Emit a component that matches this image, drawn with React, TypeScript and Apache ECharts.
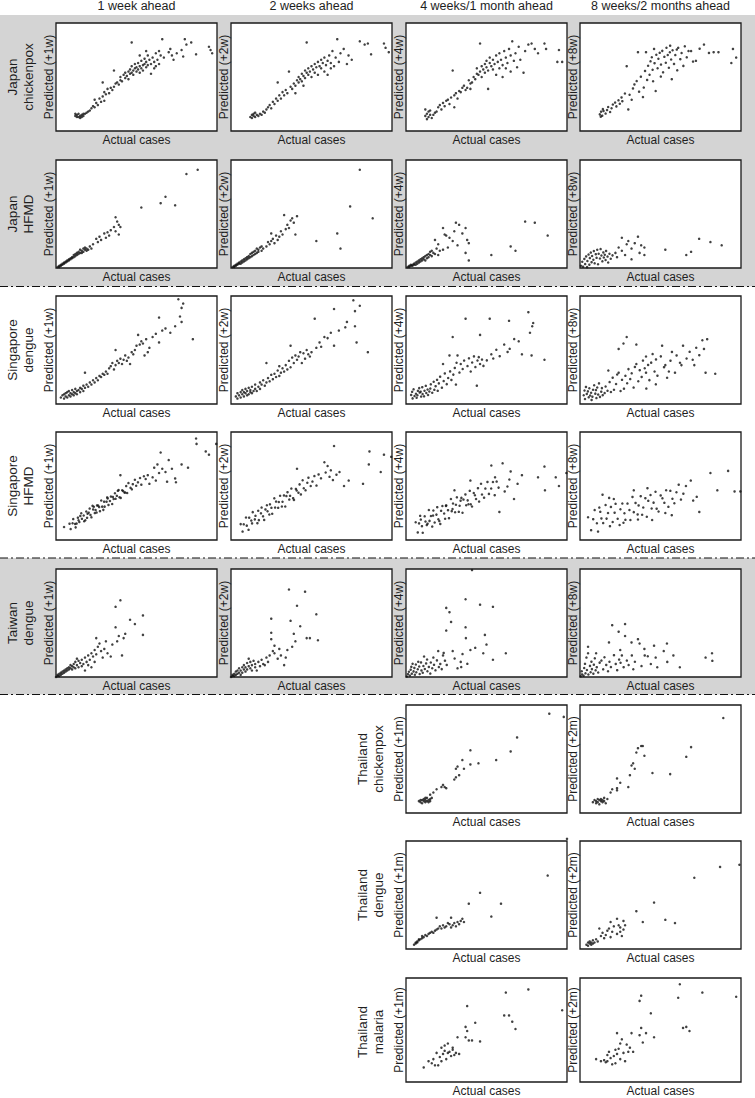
import React, { useEffect, useRef } from "react";
import * as echarts from "echarts";

// ---------- text ----------
const COL_HEADERS = ["1 week ahead", "2 weeks ahead", "4 weeks/1 month ahead", "8 weeks/2 months ahead"];
const ROW_LABELS = [
  "Japan\nchickenpox",
  "Japan\nHFMD",
  "Singapore\ndengue",
  "Singapore\nHFMD",
  "Taiwan\ndengue",
  "Thailand\nchickenpox",
  "Thailand\ndengue",
  "Thailand\nmalaria",
];
const WEEK_HORIZONS = ["+1w", "+2w", "+4w", "+8w"];
const MONTH_HORIZONS = ["+1m", "+2m"];
const X_LABEL = "Actual cases";

// ---------- data (relative units, actual vs predicted) ----------
const JP_CHICKENPOX_1W = [[12,14],[13,15],[14,13],[15,14],[16,15],[14,16],[13,13],[17,14],[18,16],[15,12],[16,13],[19,17],[20,18],[17,16],[12,16],[21,19],[22,21],[23,23],[24,22],[25,26],[26,24],[24,29],[27,30],[28,27],[29,32],[30,28],[31,34],[30,36],[32,39],[33,35],[34,40],[35,38],[36,41],[37,44],[36,56],[38,45],[39,43],[40,47],[40,50],[41,46],[42,52],[43,49],[43,54],[44,51],[45,55],[45,48],[46,53],[46,57],[47,54],[47,60],[48,56],[48,52],[49,58],[49,62],[50,55],[50,59],[51,57],[51,63],[52,60],[52,54],[53,58],[53,65],[54,61],[54,56],[55,62],[55,67],[56,59],[56,64],[57,61],[57,70],[58,66],[59,53],[59,62],[60,68],[61,64],[61,58],[62,72],[62,60],[63,66],[64,74],[64,62],[65,70],[66,85],[67,68],[70,73],[71,76],[72,70],[73,66],[75,72],[78,75],[79,69],[80,85],[81,80],[84,82],[87,71],[47,82],[95,78],[96,75],[97,72],[56,74],[52,70],[29,45]];
const JP_CHICKENPOX_2W = [[12,13],[13,15],[14,14],[15,13],[16,15],[17,14],[14,16],[13,12],[18,16],[19,15],[15,17],[20,18],[21,17],[22,20],[23,22],[24,24],[25,21],[26,27],[27,25],[28,30],[29,28],[30,33],[31,30],[32,36],[33,33],[34,38],[35,35],[36,55],[37,41],[38,39],[39,44],[40,42],[41,47],[42,45],[42,50],[43,48],[44,53],[44,46],[45,51],[46,56],[46,49],[47,54],[48,58],[48,52],[49,55],[50,60],[50,50],[51,57],[52,62],[52,54],[53,59],[54,64],[54,52],[55,60],[56,58],[56,66],[57,63],[58,55],[58,68],[59,61],[60,52],[60,65],[61,70],[62,58],[62,63],[63,74],[64,60],[65,68],[66,85],[67,64],[68,72],[70,76],[72,62],[73,70],[75,66],[80,83],[83,80],[85,81],[87,71],[47,82],[95,81],[96,77],[98,73],[29,45],[40,35],[45,42]];
const JP_CHICKENPOX_4W = [[12,14],[13,16],[14,13],[15,15],[16,12],[14,18],[17,15],[13,11],[15,19],[18,17],[12,20],[19,18],[20,22],[21,24],[22,20],[23,26],[24,23],[25,28],[26,29],[27,25],[28,31],[29,56],[30,22],[30,33],[31,35],[32,30],[33,37],[34,36],[35,40],[36,42],[37,38],[38,40],[39,47],[40,39],[40,44],[41,45],[42,50],[43,48],[44,53],[44,58],[45,52],[46,81],[46,55],[47,60],[47,50],[48,57],[49,62],[49,54],[50,65],[50,59],[51,39],[51,56],[52,63],[52,68],[53,60],[54,66],[54,57],[55,62],[56,70],[56,52],[57,64],[58,72],[58,58],[59,66],[60,50],[60,61],[61,74],[62,68],[63,63],[64,76],[65,70],[66,83],[67,65],[68,72],[69,59],[70,78],[71,66],[73,54],[74,74],[76,80],[78,81],[80,76],[82,72],[86,81],[87,76],[95,75],[97,64],[94,64],[62,58],[65,55]];
const JP_CHICKENPOX_8W = [[12.3,15.4],[13.1,17.9],[13.8,14.2],[14.6,18.6],[15.9,16.1],[14.2,20.3],[16.8,19.4],[12.9,13.3],[17.5,22.2],[18.7,17.6],[19.6,21.1],[20.4,24.5],[21.8,26.3],[22.6,22.8],[23.9,28.4],[24.7,25.2],[25.8,31.1],[26.3,27.6],[27.9,34.7],[29,60],[30,20],[30.8,33.6],[32.1,28.9],[32.9,39.4],[33.8,43.1],[35.2,46.2],[36,73],[36.7,36.4],[37.8,50.3],[39.1,31.4],[39.6,40.2],[40.4,55.6],[41,73],[41.7,47.3],[42.3,60.4],[43.2,52.1],[43.8,64.5],[44.6,68.3],[45.1,56.7],[46,76],[46.3,62.8],[47,37],[47.4,70.6],[48.2,58.1],[48.7,66.9],[49.5,72.4],[50.3,61.5],[51.1,74.2],[51.6,54.3],[52.4,68.7],[53.3,63.2],[53.7,77.1],[54.5,70.4],[55.2,58.6],[55.8,72.9],[56,79],[56.6,66.2],[57,48],[57.5,74.8],[58.4,62.1],[59.2,70.3],[60.1,75.4],[60.4,56.2],[61,77],[62.3,66.5],[63.1,72.2],[64.2,60.3],[65.1,78.4],[66.3,68.2],[67.4,74.1],[69,74],[70.2,64.3],[72,65],[74.3,76.2],[77,80],[80.1,72.3],[83,73],[86,73],[95,76],[97,68],[94,63],[45.4,46.1],[50.2,50.4]];

const JP_HFMD_1W = [[1,1],[2,2],[2,1],[3,3],[3,2],[4,3],[4,4],[5,4],[5,5],[6,5],[6,6],[7,6],[7,7],[8,7],[8,8],[9,8],[9,9],[10,9],[10,10],[11,10],[11,12],[12,11],[12,13],[13,12],[13,14],[14,13],[14,15],[15,14],[15,17],[16,16],[16,14],[17,15],[17,18],[18,17],[18,19],[19,16],[19,18],[20,17],[21,20],[22,18],[23,22],[25,27],[26,24],[27,29],[28,26],[30,32],[31,28],[32,33],[33,30],[34,35],[36,38],[37,47],[37,34],[38,43],[39,40],[39,31],[40,38],[53,56],[65,60],[68,66],[74,58],[81,87],[88,91]];
const JP_HFMD_2W = [[1,1],[2,2],[2,1],[3,3],[3,2],[4,4],[4,3],[5,5],[5,4],[6,6],[6,4],[7,7],[7,5],[8,8],[8,6],[9,9],[9,7],[10,10],[10,8],[11,11],[11,9],[12,13],[12,10],[13,14],[13,11],[14,15],[14,12],[15,16],[15,13],[16,18],[16,14],[17,17],[17,15],[18,19],[19,20],[19,16],[20,18],[22,20],[23,24],[24,22],[25,25],[25,32],[26,27],[27,23],[28,30],[29,26],[30,29],[31,34],[32,31],[33,49],[34,36],[35,40],[36,37],[37,44],[38,46],[39,42],[40,31],[41,48],[53,25],[66,32],[68,18],[74,57],[80,91],[88,46]];
const JP_HFMD_4W = [[1,1],[2,1],[2,2],[3,2],[3,3],[4,2],[4,3],[5,4],[5,3],[6,5],[6,3],[7,6],[7,4],[8,7],[8,5],[9,8],[9,6],[10,9],[10,7],[11,10],[11,8],[12,11],[12,7],[13,12],[13,9],[14,13],[14,10],[15,12],[15,15],[16,11],[16,16],[17,14],[18,26],[18,13],[19,18],[20,22],[20,12],[21,16],[23,37],[23,17],[24,31],[25,30],[26,19],[27,28],[29,25],[30,34],[32,21],[33,40],[35,32],[37,37],[37,14],[38,26],[39,23],[39,7],[31,42],[53,12],[65,20],[68,16],[74,43],[80,42],[88,30]];
const JP_HFMD_8W = [[0.6,2.1],[1.4,5.8],[1.9,1.2],[2.7,8.4],[3.2,3.6],[3.8,10.7],[4.4,0.8],[4.6,6.5],[5.3,12.4],[5.8,3.1],[6.1,9.2],[6.7,14.3],[7.2,5.4],[7.5,11.1],[8.3,7.6],[8.6,15.7],[9.1,4.3],[9.8,12.8],[10.3,9.4],[10.7,16.9],[11.2,3.5],[11.6,13.2],[12.4,8.8],[12.8,17.5],[13.3,11.6],[13.9,6.2],[14.5,14.4],[14.8,9.7],[15.4,12.3],[15.9,7.4],[16.2,15.8],[17.1,10.6],[17.5,5.1],[18.3,13.2],[19.1,8.6],[20.2,11.7],[22,14],[23,10],[26,28],[26,16],[29,22],[30,25],[32,18],[32,8],[34,23],[36,29],[37,14],[38,21],[40,12],[40,19],[53,17],[66,12],[69,15],[74,27],[81,24],[88,21],[24,19],[28,12]];

const SG_DENGUE_1W = [[3,6],[4,8],[5,5],[5,9],[6,7],[6,10],[7,6],[7,11],[8,8],[8,12],[9,7],[9,10],[10,9],[10,13],[11,8],[11,11],[12,10],[12,14],[13,12],[13,9],[14,13],[15,11],[15,15],[16,14],[17,12],[17,17],[18,29],[18,15],[19,18],[20,16],[21,20],[22,18],[23,22],[24,20],[25,24],[26,22],[27,26],[28,25],[29,28],[30,27],[31,30],[32,28],[33,33],[34,35],[35,38],[36,32],[37,50],[37,36],[38,40],[39,38],[40,42],[41,37],[42,41],[43,45],[44,40],[45,43],[46,37],[47,48],[48,46],[49,50],[50,54],[51,64],[52,55],[53,58],[54,56],[56,60],[58,52],[60,62],[62,65],[64,57],[64,80],[66,68],[68,70],[71,66],[74,72],[76,97],[77,81],[78,89],[78,76],[79,93],[85,60],[57,48],[55,45]];
const SG_DENGUE_2W = [[3,7],[4,5],[4,10],[5,8],[6,6],[6,11],[7,9],[7,13],[8,7],[8,11],[9,10],[9,14],[10,8],[10,12],[11,15],[11,9],[12,11],[12,13],[13,16],[13,10],[14,12],[15,14],[15,18],[16,12],[17,16],[18,20],[18,14],[19,18],[20,22],[21,17],[22,38],[22,20],[23,24],[24,21],[25,27],[26,23],[27,28],[28,25],[29,31],[30,35],[30,26],[31,29],[32,33],[33,30],[34,36],[35,32],[36,40],[37,54],[37,34],[38,43],[39,38],[40,45],[41,41],[42,44],[43,48],[44,38],[45,47],[46,42],[47,50],[48,46],[50,48],[52,79],[53,52],[55,57],[56,53],[58,62],[60,61],[62,66],[64,54],[64,88],[67,68],[71,71],[72,76],[76,96],[77,86],[77,72],[78,57],[80,91],[85,48],[49,44]];
const SG_DENGUE_4W = [[3.2,8.4],[4.1,5.2],[3.8,11.3],[5.3,7.4],[4.7,13.6],[6.2,9.5],[6.6,5.8],[7.4,12.2],[7.1,8.1],[8.5,10.6],[8.2,14.7],[9.4,6.9],[9.1,11.4],[10.3,9.2],[10.1,15.6],[11.5,12.3],[11.2,7.1],[12.6,10.2],[12.3,16.8],[13.4,13.4],[13.7,8.3],[14.5,11.6],[15.4,18.2],[15.1,14.3],[16.3,10.4],[17.2,20.6],[17.6,13.1],[18.4,16.5],[19.3,22.4],[19.7,12.2],[20.4,19.1],[21.2,25.3],[22.3,15.1],[23,37],[23.4,21.2],[24.1,28.3],[25.3,18.4],[26.2,24.1],[27,45],[27.4,30.2],[28.2,22.3],[29,62],[29.4,27.2],[30.3,33.4],[31,18],[31.4,38.2],[32,45],[33.2,29.1],[34,37],[35.2,32.4],[36.1,40.2],[37,79],[38.2,35.1],[39.1,42.3],[40.2,30.1],[41.1,38.4],[42.2,44.1],[43.1,34.2],[44,17],[44.4,40.3],[45.2,43.4],[46,37],[46,64],[47.2,41.1],[48.1,35.3],[50.2,40.4],[52,79],[53,46],[54.2,42.1],[56.1,50.2],[58.2,44.3],[61,55],[63.1,48.2],[64,77],[64.4,51.1],[67.2,60.1],[70,58],[72,46],[76,85],[77,66],[78,45],[79,75],[78.4,72],[86,41]];
const SG_DENGUE_8W = [[2.3,8.1],[3.1,4.6],[2.8,12.5],[4.2,9.3],[3.7,15.8],[5.4,6.2],[4.9,11.7],[6.3,7.9],[5.8,14.6],[7.2,3.8],[6.9,10.4],[8.1,13.2],[7.7,6.8],[8.8,17.4],[9.5,9.6],[10.2,5.5],[9.9,12.9],[11.3,8.7],[10.7,15.3],[12.4,6.6],[11.8,19.1],[13.2,11.4],[14.1,8.2],[13.6,14.7],[15.3,10.1],[15.9,16.2],[17.1,12.3],[17.6,31],[18.4,20.3],[19.2,11.1],[20.3,24.4],[21.1,13.2],[22.4,18.5],[23.1,27.3],[24,29],[24,51],[25.2,12],[26.1,22.4],[27,56],[27.3,14.2],[28.2,26.1],[29,62],[29.3,19.2],[30.1,32.3],[31.2,23.1],[32.1,28.4],[33.3,15.2],[34.1,34.3],[35,37],[35,55],[36.2,21.1],[37.1,31.3],[38.3,25.1],[39.1,40.2],[40.2,33.1],[41,29],[41.2,14.3],[41,44],[42.3,36.2],[43.1,22.1],[44.2,38.3],[45.1,46.2],[46.3,30.1],[47.2,41.3],[48.1,26.2],[50.2,44.1],[51,54],[52.2,34.1],[53,36],[54.1,24.3],[56.2,40.1],[57.1,48.2],[59,29],[60,45],[62.1,38.2],[63,36],[64,54],[66.2,42.1],[68.1,48.3],[70,41],[71,36],[72.2,52.1],[74.1,45.2],[76,59],[77,51],[78,29],[79,60],[84,28],[55.2,30.1],[47.1,18.2]];

const SG_HFMD_1W = [[5,12],[8.4,15.1],[9.1,10.1],[10.3,15.5],[10.7,19.4],[11.9,14.9],[12.2,11.7],[13.6,20.7],[14,18.3],[14.5,16.7],[15.7,24.8],[16.1,19.6],[17.2,22.7],[17.5,17.4],[18.8,26.4],[19.3,20.5],[19.6,24.3],[20.9,29.1],[21.4,23.2],[22,21],[23.1,28.3],[23.5,30.8],[24.6,27.7],[25.2,25.4],[25.5,32],[26.8,30.5],[27.3,26.7],[28.1,36.6],[28.7,30.9],[29.9,35.5],[30.2,30.9],[31.4,35.5],[31.8,39.4],[32.6,32.5],[33.5,36.1],[34.1,40.2],[34.9,33.3],[35.3,39.9],[36.6,43.3],[37,38.1],[37.8,40.9],[38.9,46.2],[39.4,39.6],[40.2,39],[41.1,46.1],[41.7,45.3],[42.5,44],[43.6,49.9],[44.2,43.5],[45,52.7],[46.3,48.3],[47.1,46.9],[47.7,51.7],[49,55.8],[49.8,50.2],[50.9,53.4],[52.2,57.4],[53,51.2],[54.6,59],[55.7,56.5],[12.8,15.2],[15.1,22.3],[18.2,18.3],[20.3,25.3],[22.7,31.6],[24.1,24.9],[26.2,31.9],[29.4,27.9],[32.1,38.5],[35.8,38],[38.4,45.5],[43,43.9],[40,60],[57,60],[58,52],[60,58],[61,67],[62,55],[63,70],[64,62],[65,81],[66,66],[68,63],[69,54],[70,74],[72,66],[74,57],[74.5,53.5],[78,70],[82,67],[87,94],[87.3,89],[93,82],[95,79],[99.5,89]];
const SG_HFMD_2W = [[6,14.7],[7.2,7.8],[7.9,14.5],[9.3,20.8],[9.8,13.3],[10.9,9.4],[11.3,20.7],[12.6,18],[13.1,15.4],[13.5,25.8],[14.8,19.1],[15.2,22.4],[16.4,15.6],[16.9,27.1],[17.3,18.4],[18.6,24.7],[19,30],[19.9,21.9],[20.6,18.6],[21.4,28.3],[22.3,32.2],[22.7,26.6],[23.8,23.6],[24.2,33],[25.1,29.8],[25.6,24.3],[26.9,38.6],[27.4,30],[28,35.6],[29.3,29.8],[29.7,35.2],[30.5,41],[31.6,31],[32,35.4],[32.9,41.3],[33.7,31],[34.4,40.7],[35.1,44.3],[36.2,37.4],[36.7,40.9],[37.5,47.6],[38.6,38.7],[39.1,37.1],[40.3,47.3],[40.8,45.8],[41,66],[41.9,43.8],[42.6,51.5],[43.4,42.2],[44.5,55.3],[45.2,47.9],[46.3,46],[47.4,53],[48.1,57.7],[49.5,50],[50.6,54.1],[51.8,59.2],[53.1,50.4],[54.4,60.7],[55.9,57.1],[58,72],[58.8,62.5],[60,68.5],[61.2,58.5],[62,64.5],[63.3,55.5],[64,87],[65.5,60.5],[67.4,63],[70.2,50],[73.1,55],[82,52],[86,82],[85.6,70],[93,63],[95,79],[99.5,77]];
const SG_HFMD_4W = [[6,16.4],[7.3,7],[8.1,15.4],[8.8,22.4],[9.9,12.8],[10.4,6.7],[11.6,21.9],[12.1,17.1],[12.9,13.8],[14.2,27.8],[14.6,17.7],[15.5,22.2],[16.3,12.4],[17,27.3],[17.8,16.2],[18.9,23.5],[19.4,30.4],[20.1,19.2],[21.3,14.9],[21.8,27],[22.6,31.5],[23.7,24.5],[24.3,19.7],[25,32],[26.1,27.6],[26.7,20.2],[27.9,38],[28.4,26.7],[29.2,33.8],[30.5,25.7],[31,32.6],[31.6,39.5],[32.8,26.1],[33.3,31.7],[34.4,39],[35.1,25.2],[35.7,37.4],[36.9,42.2],[37.4,32.2],[38.3,36.7],[39.6,45.5],[40.2,33],[41,31],[42.1,43.5],[42.8,41.4],[43.5,38],[44.7,48],[45.4,35.6],[46.6,52.1],[47.2,42.1],[48.5,39.2],[49.3,47.6],[50.6,53.8],[51.5,42.7],[52.9,47.7],[54,53.7],[55.1,41.5],[56.3,54.1],[57.5,48.5],[9.2,18.9],[13.4,15.1],[16.8,22.6],[20.7,17.5],[24.8,31.6],[28.9,28.7],[33.9,36.4],[38.8,33.1],[30.1,46],[40,55],[53,69],[55.3,58],[58,26],[60,71],[61.3,45],[63,49.5],[64.2,56],[65,63.5],[67.1,38],[69.3,52],[72,60],[82,58],[86,68],[86.3,46],[93,58],[95,50],[99.6,62]];
const SG_HFMD_8W = [[5,21.1],[6.9,9.1],[8.2,19.3],[9.1,27.7],[10.5,15.5],[11.2,7.8],[12.6,26.1],[13.3,20],[14.4,15.7],[15.9,32.4],[16.5,19.8],[17.4,25],[18.6,12.8],[19.2,30.6],[20.3,16.7],[21.5,25.3],[22.1,33.5],[23.4,19.7],[24.6,13.9],[25.1,28.5],[26.3,33.8],[27.6,24.8],[28.2,18.7],[29.5,33.7],[30.7,27.8],[31.3,18.5],[32.6,39.9],[33.4,25.8],[34.5,34.3],[35.8,23.7],[36.4,32],[37.7,40.6],[38.6,23.4],[39.3,30.1],[40.6,38.7],[41.5,21.5],[42.4,36.3],[43.8,41.7],[44.5,29.2],[45.7,34.6],[46.9,44.7],[47.6,29],[48.8,26.4],[50.1,41.3],[51.2,38.6],[52.4,34.4],[53.5,46.1],[54.9,30.7],[56.1,45.5],[57.4,38.2],[58.6,34],[59.9,44.2],[61.3,51.2],[62.7,37.4],[64.2,42.9],[65.8,50],[14,42],[18.1,39],[33.4,46],[41.9,48],[12,30],[21,38],[27,16],[44.8,18.5],[36,19],[53,25],[57,23],[68.8,55],[70.3,36.5],[72.5,40],[74.1,26],[81,62],[85.3,46],[92,64],[96,45],[99.6,45]];

const TW_DENGUE_1W = [[0,0],[1,1],[1,2],[2,1],[2,3],[3,2],[3,4],[4,3],[4,5],[5,4],[5,6],[6,5],[6,7],[7,6],[7,8],[8,7],[8,9],[9,8],[9,11],[10,7],[10,10],[11,12],[11,9],[12,14],[12,8],[13,17],[13,11],[14,15],[14,9],[15,13],[16,16],[16,10],[17,12],[18,6],[18,18],[19,14],[20,20],[20,11],[21,16],[22,9],[22,22],[23,19],[24,25],[24,14],[25,36],[25,21],[26,28],[27,31],[28,24],[29,18],[30,26],[31,33],[32,22],[34,19],[35,30],[37,65],[37,46],[38,33],[39,38],[40,71],[41,20],[42,36],[43,40],[46,53],[49,49],[54,57],[54,39]];
const TW_DENGUE_2W = [[0,0],[1,1],[1,2],[2,1],[2,3],[3,2],[3,5],[4,3],[4,6],[5,4],[5,8],[6,2],[6,6],[7,9],[7,4],[8,7],[8,11],[9,5],[9,9],[10,13],[10,7],[11,17],[11,10],[12,8],[12,14],[13,6],[13,11],[14,15],[15,9],[15,12],[16,6],[17,14],[18,10],[19,16],[20,12],[21,11],[22,18],[23,14],[24,20],[25,54],[25,41],[25,35],[26,24],[27,29],[27,22],[29,17],[30,26],[31,20],[33,11],[34,18],[35,25],[36,81],[37,52],[38,28],[39,40],[40,33],[41,66],[43,47],[46,79],[47,36],[49,36],[53,58],[54,34]];
const TW_DENGUE_4W = [[0.5,0.5],[1.2,2.6],[1.8,4.9],[2.4,1.3],[2.9,6.8],[3.6,3.1],[3.3,9.4],[4.7,5.2],[4.1,12.3],[5.5,2.1],[5.2,8.4],[6.4,4.3],[6.1,11.6],[7.3,7.2],[7.6,14.1],[8.5,2.8],[8.2,9.7],[9.6,6.1],[9.3,13.5],[10.4,3.9],[10.8,10.2],[11.2,19],[11.7,7.4],[12.5,12.6],[13.3,5.3],[13.1,16.2],[14.2,9.3],[15.4,13.4],[15.1,3.2],[16.3,8.1],[17,18],[17.4,11.3],[18.3,6.2],[19.2,15.4],[20,24],[20.4,9.2],[21.3,12.1],[22.2,7.3],[23,20],[23.4,22.3],[24.2,15.1],[25,64],[25,43],[25.3,11.2],[27,60],[28,51],[29,24],[30.2,17.1],[32,8],[34,14],[34.3,9.2],[35.1,21.2],[37,72],[37,46],[37.2,36],[38.1,12.2],[40,25],[41,99],[43,27],[46,67],[48,22],[49,39],[50,30],[54,65],[54,16],[62,22]];
const TW_DENGUE_8W = [[0.4,0.6],[1.3,2.4],[1.1,5.3],[2.2,1.2],[2.6,8.3],[3.4,3.4],[3.1,12.2],[4.3,6.5],[4,18],[5.2,2.3],[5,22],[5,28],[6.2,10.3],[6.6,4.4],[7.1,14.2],[7.4,7.3],[8.3,3.1],[8.6,11.4],[9.2,17.3],[9.7,6.2],[10,22],[10.4,9.1],[11.3,4.2],[12.2,13.3],[13.3,15.2],[14.4,7.1],[15.2,18.3],[16.3,11.2],[17.4,5.3],[18,32],[18.3,14.1],[19.2,9.2],[20,48],[21.1,20.2],[22.2,12.1],[23.1,6.3],[24,42],[24.3,16.1],[25,25],[25.2,13.2],[26,20],[27.1,9.1],[28,49],[28,38],[29.1,15.2],[30.2,11.1],[32,32],[32.2,20],[33.1,7.2],[34.1,14.1],[36,35],[37,31],[38.2,10.1],[40,26],[40.2,20],[42.1,19.2],[44,12],[46,29],[47,18],[48,9],[52,24],[54,31],[54.2,14],[58,20],[62,9],[78,18],[82,22],[82.2,15]];

const TH_CHICKENPOX_1M = [[8,11],[9,10],[10,12],[10,9],[11,11],[11,13],[12,10],[12,12],[13,11],[13,14],[14,12],[14,10],[15,13],[15,11],[16,14],[15,17],[17,19],[19,22],[22,24],[23,26],[24,24],[25,23],[30,31],[31,33],[33,35],[31,41],[32,43],[35,49],[36,41],[40,58],[40,45],[45,46],[56,49],[65,57],[69,70],[89,92],[98,89],[12,14],[9,12]];
const TH_CHICKENPOX_2M = [[8,10],[9,12],[10,9],[10,11],[11,13],[11,10],[12,12],[12,8],[13,11],[13,13],[14,10],[14,12],[15,14],[15,11],[16,9],[17,13],[19,19],[20,22],[23,32],[23,23],[23,21],[25,28],[30,24],[31,35],[32,44],[33,46],[34,41],[35,56],[36,60],[38,62],[39,62],[40,53],[45,37],[56,36],[66,52],[69,61],[89,88]];
const TH_DENGUE_1M = [[5,4],[6,5],[6,6],[7,7],[7,6],[8,8],[8,9],[9,9],[10,10],[10,12],[11,11],[12,13],[13,12],[14,14],[15,15],[16,16],[17,15],[18,17],[19,18],[19,29],[20,19],[21,21],[22,19],[23,22],[24,20],[25,21],[26,24],[27,23],[28,29],[28,20],[29,22],[30,24],[31,21],[32,25],[33,23],[34,26],[35,28],[36,25],[39,42],[46,52],[53,30],[59,42],[88,68],[100,102]];
const TH_DENGUE_2M = [[4,4],[5,6],[5,3],[6,5],[6,7],[7,4],[7,6],[8,8],[8,5],[9,6],[10,9],[11,7],[12,19],[13,12],[14,15],[15,10],[16,13],[17,17],[18,19],[19,25],[19,11],[20,16],[21,21],[23,28],[23,14],[24,22],[25,16],[25,20],[26,12],[27,26],[27,18],[28,22],[35,35],[39,25],[46,43],[53,27],[59,24],[71,66],[87,76],[99,78]];
const TH_MALARIA_1M = [[11,14],[14,20],[16,18],[17,22],[18,16],[19,28],[20,16],[21,24],[22,33],[22,20],[23,27],[24,30],[25,22],[26,37],[26,28],[27,29],[28,25],[29,31],[30,26],[31,28],[33,27],[32,43],[37,53],[37,43],[38,73],[38,49],[39,40],[41,40],[43,57],[46,39],[61,64],[62,86],[64,64],[66,58],[68,51],[76,89],[97,69],[24,35],[29,33]];
const TH_MALARIA_2M = [[10,22],[13,20],[15,21],[16,19],[17,26],[17,20],[18,29],[19,23],[20,17],[21,25],[22,18],[22,31],[23,47],[23,27],[24,32],[25,22],[25,37],[26,41],[27,28],[28,20],[29,36],[30,29],[31,33],[32,47],[33,29],[37,45],[37,78],[38,83],[38,52],[39,38],[41,47],[44,66],[46,43],[61,81],[62,94],[64,52],[66,53],[68,49],[76,86],[97,82]];

const PANEL_DATA = [
  [JP_CHICKENPOX_1W, JP_CHICKENPOX_2W, JP_CHICKENPOX_4W, JP_CHICKENPOX_8W],
  [JP_HFMD_1W, JP_HFMD_2W, JP_HFMD_4W, JP_HFMD_8W],
  [SG_DENGUE_1W, SG_DENGUE_2W, SG_DENGUE_4W, SG_DENGUE_8W],
  [SG_HFMD_1W, SG_HFMD_2W, SG_HFMD_4W, SG_HFMD_8W],
  [TW_DENGUE_1W, TW_DENGUE_2W, TW_DENGUE_4W, TW_DENGUE_8W],
  [TH_CHICKENPOX_1M, TH_CHICKENPOX_2M],
  [TH_DENGUE_1M, TH_DENGUE_2M],
  [TH_MALARIA_1M, TH_MALARIA_2M],
];

// ---------- layout ----------
const COL_X = [56, 231, 406, 580];
const ROW_Y = [23, 160, 296, 432, 569, 705, 841, 978];
const PW = 161;
const PH = 108;
const FONT = "'Liberation Sans', Arial, Helvetica, sans-serif";
const TXT = "#1e1e1e";

export default function App() {
  const ref = useRef<HTMLDivElement>(null);
  useEffect(() => {
    if (!ref.current) return;
    const chart = echarts.init(ref.current, undefined, { renderer: "svg" });

    const panels: { row: number; col: number; horizon: string; data: number[][] }[] = [];
    PANEL_DATA.forEach((rowData, r) => {
      const monthly = rowData.length === 2;
      rowData.forEach((d, i) => {
        panels.push({
          row: r,
          col: monthly ? i + 2 : i,
          horizon: monthly ? MONTH_HORIZONS[i] : WEEK_HORIZONS[i],
          data: d,
        });
      });
    });

    const grids = panels.map((p) => ({
      left: COL_X[p.col],
      top: ROW_Y[p.row],
      width: PW,
      height: PH,
      show: true,
      backgroundColor: "#ffffff",
      borderColor: "#1a1a1a",
      borderWidth: 1.3,
      containLabel: false,
    }));

    const nameStyle = { fontSize: 12, color: TXT, fontFamily: FONT };
    const xAxes = panels.map((p, i) => ({
      gridIndex: i,
      type: "value",
      min: 0,
      max: 100,
      axisLine: { show: false },
      axisTick: { show: false },
      axisLabel: { show: false },
      splitLine: { show: false },
      name: X_LABEL,
      nameLocation: "middle",
      nameGap: 3,
      nameTextStyle: nameStyle,
    }));
    const yAxes = panels.map((p, i) => ({
      gridIndex: i,
      type: "value",
      min: 0,
      max: 100,
      axisLine: { show: false },
      axisTick: { show: false },
      axisLabel: { show: false },
      splitLine: { show: false },
      name: `Predicted (${p.horizon})`,
      nameLocation: "middle",
      nameRotate: 90,
      nameGap: 1,
      nameTextStyle: nameStyle,
    }));
    const series = panels.map((p, i) => ({
      type: "scatter",
      xAxisIndex: i,
      yAxisIndex: i,
      data: p.data,
      symbol: "circle",
      symbolSize: 2.5,
      itemStyle: { color: "#111111" },
      clip: false,
      silent: true,
    }));

    const graphic: any[] = [];
    graphic.push({ type: "rect", z: -10, shape: { x: 0, y: 15, width: 755, height: 271.5 }, style: { fill: "#d4d4d4" } });
    graphic.push({ type: "rect", z: -10, shape: { x: 0, y: 558, width: 755, height: 136.5 }, style: { fill: "#d4d4d4" } });
    [286.5, 558, 694.5].forEach((y) => {
      graphic.push({
        type: "line",
        z: 50,
        shape: { x1: 0, y1: y, x2: 755, y2: y },
        style: { stroke: "#111", lineWidth: 1.2, lineDash: [8, 3, 2, 3] },
      });
    });
    COL_HEADERS.forEach((t, c) => {
      graphic.push({
        type: "text",
        x: COL_X[c] + PW / 2,
        y: 6,
        style: { text: t, textAlign: "center", textVerticalAlign: "middle", fontSize: 12.5, fontFamily: FONT, fill: TXT },
      });
    });
    ROW_LABELS.forEach((t, r) => {
      const firstCol = PANEL_DATA[r].length === 2 ? 2 : 0;
      graphic.push({
        type: "text",
        x: COL_X[firstCol] - 36,
        y: ROW_Y[r] + PH / 2,
        rotation: Math.PI / 2,
        style: { text: t, textAlign: "center", textVerticalAlign: "middle", fontSize: 13.5, lineHeight: 16, fontFamily: FONT, fill: TXT },
      });
    });

    chart.setOption({
      animation: false,
      grid: grids,
      xAxis: xAxes,
      yAxis: yAxes,
      series,
      graphic,
    } as any);

    return () => chart.dispose();
  }, []);

  return <div ref={ref} style={{ position: "absolute", left: 0, top: 0, width: 755, height: 1098 }} />;
}
